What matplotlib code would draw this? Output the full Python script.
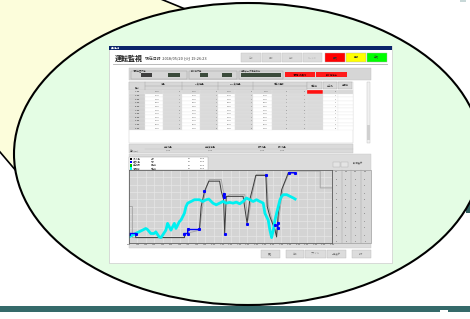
import numpy as np
import matplotlib.pyplot as plt
from matplotlib.patches import Rectangle, Ellipse, Polygon

plt.rcParams['font.family'] = ['Noto Sans CJK JP', 'DejaVu Sans']

# trend data (hours, percent of scale)
dark_x = [0, 0.79, 0.79, 6.55, 6.55, 6.94, 6.94, 8.33, 8.53, 8.93, 9.44, 10.71, 10.91, 11.19, 11.31,
          11.50, 13.49, 13.96, 14.28, 14.68, 14.99, 16.18, 16.34, 16.66, 17.26, 17.45, 17.65, 18.05,
          18.45, 18.84, 19.64]
dark_y = [13, 13, 7.4, 7.4, 13, 13, 18.5, 18.5, 50, 70.8, 84.7, 84.7, 70.8, 59.3, 13,
          63.9, 63.9, 26.9, 59.3, 77.8, 92.6, 92.6, 50, 36.1, 17.6, 8.3, 40.7, 73.1,
          84.7, 96.3, 96.3]

gray_x = [0, 0.40, 0.40, 6.55, 6.74, 8.33, 8.73, 9.12, 9.52, 10.91, 11.11, 11.42, 11.90, 13.69,
          14.08, 14.48, 15.07, 16.26, 16.46, 16.86, 17.45, 17.85, 18.25, 19.04, 19.83, 22.61, 22.61, 24]
gray_y = [50, 50, 7.4, 7.4, 13, 17.6, 52.3, 75.5, 87, 87, 73.1, 61.6, 66.2, 66.2,
          31.5, 61.6, 94, 94, 52.3, 33.8, 13, 45.4, 77.8, 98.6, 98.6, 98.6, 75.5, 75.5]

cyan_x = [0, 0.40, 0.79, 1.19, 1.59, 1.98, 2.18, 2.58, 2.98, 3.17, 3.57, 3.77, 3.97, 4.36, 4.56,
          4.76, 4.96, 5.16, 5.36, 5.55, 5.75, 5.95, 6.15, 6.35, 6.55, 6.74, 6.94, 7.34, 7.74, 8.33,
          8.73, 9.12, 9.44, 9.92, 10.31, 10.71, 11.11, 11.50, 11.90, 12.30, 12.69, 13.09, 13.49,
          13.88, 14.28, 14.68, 15.07, 15.47, 15.87, 16.07, 16.26, 16.46, 16.66, 16.86, 17.06,
          17.26, 17.45, 17.65, 17.85, 18.05, 18.25, 18.64, 19.04, 19.44, 19.64]
cyan_y = [8.3, 10.6, 13, 15.3, 17.6, 19.9, 18.5, 13, 13, 15.3, 8.3, 7.4, 10.6, 17.6, 26.9,
          22.2, 17.6, 22.2, 26.9, 19.9, 24.5, 29.2, 31.5, 36.1, 40.7, 50, 54.6, 56.9, 59.3, 59.3,
          56.9, 59.3, 60.2, 54.6, 52.3, 54.6, 56.9, 54.6, 55.6, 54.6, 56, 53.7, 56.9,
          61.6, 59.3, 56.9, 59.3, 56.9, 54.6, 40.7, 36.1, 31.5, 17.6, 7.4, 17.6,
          31.5, 40.7, 50, 59.3, 63.9, 66.2, 66.2, 63.9, 61.6, 60.2]

blue_x = [0, 0.79, np.nan, 6.55, 6.94, 6.94, 8.25, np.nan, 8.81, np.nan, 11.19, 11.19, np.nan, 11.31,
          np.nan, 13.96, np.nan, 16.14, np.nan, 17.26, np.nan, 17.57, 17.65, np.nan, 18.96, 19.64]
blue_y = [13, 13, np.nan, 13, 13, 18.5, 18.5, np.nan, 70.8, np.nan, 67.6, 63, np.nan, 13,
          np.nan, 25.9, np.nan, 92.6, np.nan, 24.5, np.nan, 19.9, 27.8, np.nan, 96.3, 96.3]

hours = ['%d:00' % h for h in range(0, 25)]
row_times = ['13:00', '14:00', '15:00', '16:00', '17:00', '18:00', '19:00', '20:00', '21:00', '22:00', '23:00']
row_vals = ['1520', '4870', '4650', '5030', '4920', '5110', '4780', '5260', '4990', '5080', '4730']
col_heads = ['流量', 'SS負荷量', 'COD負荷量', '積算流量計']
scale_vals = ['100', '90', '80', '70', '60', '50', '40', '30', '20', '10', '0']
legend_names = ['流入水量', '処理水量', '返送汚泥', '汚泥濃度']
legend_cols = ['#000000', '#0000ff', '#00c000', '#00ffff']

fig = plt.figure(figsize=(4.7, 3.19), dpi=100)
ax = fig.add_axes([0, 0, 1, 1])
ax.set_xlim(0, 470)
ax.set_ylim(319, 0)
ax.axis('off')


def box(x0, y0, x1, y1, fc, ec='none', lw=0.3, z=2):
    ax.add_patch(Rectangle((x0, y0), x1 - x0, y1 - y0, fc=fc, ec=ec, lw=lw, zorder=z))


def txt(x, y, s, size=1.8, color='#333333', ha='left', z=4, **kw):
    ax.text(x, y, s, fontsize=size, color=color, ha=ha, va='center', zorder=z, **kw)


# slide background bits
box(0, 306, 470, 312, '#356a6a', z=0)
box(440, 310, 448, 319, 'white', z=0)
box(460, 0, 466, 2, '#c8d8d8', z=0)
box(466, 203, 470, 213, '#2f5f5f', z=0)

# callout and ellipse
ax.add_patch(Polygon([(-10, -10), (138.7, -10), (190, 11), (30, 187.3), (-10, 140.2)],
                     closed=True, fc='#fcfddb', ec='black', lw=1.2, zorder=1))
ax.add_patch(Ellipse((248, 154), 468, 302, fc='#e4fde4', ec='black', lw=1.5, zorder=1))

# screenshot window
box(109, 46, 392, 263, 'white', ec='#cccccc', lw=0.5)
box(109, 46, 392, 50, '#0a246a', z=3)
txt(111, 48, '運転監視', size=1.6, color='white')
txt(114.5, 58.5, '運転監視', size=5.0, color='#202020', fontweight='bold')
txt(145, 59, '現在日時  2018/05/20 (火) 19:26:23', size=2.8, color='#333333')
ax.plot([113, 387], [63.5, 63.5], color='#b0b0b0', lw=0.6, zorder=3)

# top buttons
for i, lab in enumerate(['日報', '月報', '年報', 'トレンド']):
    box(241 + i * 20.5, 53, 260.5 + i * 20.5, 62, '#dcdcdc', ec='#c0c0c0')
    txt(250.5 + i * 20.5, 57.5, lab, size=1.6, color='#999999', ha='center')
for x0, x1, c, lab in [(325, 345, '#ff0000', '異常'), (346, 366, '#ffff00', '警報'), (366.5, 387, '#00ff00', '正常')]:
    box(x0, 53, x1, 62, c, ec='#b0b0b0')
    txt((x0 + x1) / 2, 57.5, lab, size=1.8, color='#333333', ha='center')

# status panel
box(129, 68, 371, 80, '#d6d6d6', ec='#c0c0c0')
for x0, x1, lab in [(131, 187, '汚泥処理状態'), (189, 237, '脱水機状態'), (239, 283, '前回データ保存時刻')]:
    box(x0, 70.5, x1, 78.5, 'none', ec='#999999', lw=0.3, z=3)
    txt(x0 + 2, 70.5, lab, size=1.6, color='#444444')
box(141, 73, 152, 77, '#404040', z=3)
box(168, 73, 180, 77, '#3b4b3b', z=3)
box(200, 73, 208, 77, '#3b4b3b', z=3)
box(222, 73, 232, 77, '#3b4b3b', z=3)
box(241, 73, 281, 77, '#3b4b3b', z=3)
box(285, 72, 315, 77, '#ff1a1a', z=3)
box(316, 72, 347, 77, '#ff1a1a', z=3)
txt(300, 74.5, '汚泥引抜異常', size=1.7, color='#400000', ha='center')
txt(331.5, 74.5, '脱水機停止', size=1.7, color='#400000', ha='center')

# table
xe = [129.3, 145, 163.3, 181.7, 200, 218.3, 235, 253.3, 271.7, 288.3, 306.7, 322.7, 337.7, 352.7]
cfill = ['#d0d0d0', 'white', '#dadada', 'white', '#dadada', 'white', '#dadada', 'white', '#dadada',
         '#dadada', '#dadada', 'white', 'white']
box(129.3, 81.7, 352.7, 143, 'white', ec='#c8c8c8')
box(129.3, 81.7, 306.7, 90, '#d8d8d8', ec='#b8b8b8')
for i in range(3):
    box(xe[10 + i] + 0.5, 82, xe[11 + i] - 0.5, 89, '#d8d8d8', ec='#a8a8a8', z=3)
    txt((xe[10 + i] + xe[11 + i]) / 2, 85.5, ['積算値', '前日比', '前回値'][i], size=1.6, ha='center')
for g, (a, b) in enumerate([(1, 3), (3, 5), (5, 7), (7, 10)]):
    txt((xe[a] + xe[b]) / 2, 84, col_heads[g], size=1.6, ha='center')
    ax.plot([xe[a], xe[a]], [81.7, 90], color='#a0a0a0', lw=0.3, zorder=3)
ax.plot([145, 306.7], [86, 86], color='#a0a0a0', lw=0.3, zorder=3)
txt(137, 87.5, '時刻', size=1.6, ha='center')
row_h = 3.64
for r in range(11):
    y0 = 90 + r * row_h
    for c in range(13):
        fc = cfill[c]
        if r == 0:
            fc = '#d8d8d8'
        if r == 0 and c == 10:
            fc = '#ff1010'
        if c >= 11 and r > 0:
            fc = 'white'
        box(xe[c], y0, xe[c + 1], y0 + row_h, fc, ec='#e4e4e4', lw=0.2)
    txt(137, y0 + row_h / 2, row_times[r], size=1.5, ha='center')
    for c in [1, 3, 5, 7]:
        txt(xe[c + 1] - 6, y0 + row_h / 2, row_vals[r], size=1.4, color='#555555', ha='center')
    for c in [2, 4, 6, 8, 9, 11]:
        txt(xe[c + 1] - 2, y0 + row_h / 2, str(r % 5), size=1.4, color='#666666', ha='center')
box(366.5, 82, 370, 143, '#f0f0f0', ec='#c0c0c0')
box(367, 125, 369.5, 140, '#d0d0d0', z=3)

# summary band
box(129.3, 144, 352.7, 153, '#dadada', ec='#c0c0c0')
ax.plot([145, 352.7], [148.5, 148.5], color='#c0c0c0', lw=0.3, zorder=3)
txt(130, 151, '日計(m3)', size=1.6)
for x, lab in [(168, '平均流量'), (210, '平均負荷量'), (262, '最大流量'), (282, '最小流量')]:
    txt(x, 146.5, lab, size=1.5, ha='center')
    txt(x, 150.5, '1,250', size=1.4, ha='center', color='#666666')

# trend panel
box(129, 154, 371, 248, '#dcdcdc', ec='#c8c8c8')
box(129, 157, 208, 170, 'white', ec='#a0a0a0', z=3)
for i in range(4):
    y = 158.8 + i * 3.2
    box(129.5, y - 1.3, 131.5, y + 1.3, legend_cols[i], z=4)
    txt(133, y, legend_names[i], size=1.4, color='#555555')
    txt(151, y, ['上限', '下限', '設定値', '現在値'][i], size=1.4, color='#555555')
    txt(188, y, '0.0', size=1.4, color='#555555')
    txt(200, y, '100.0', size=1.4, color='#555555')
box(333, 162, 340, 167, '#e4e4e4', ec='#b0b0b0', z=3)
box(341, 162, 348, 167, '#e4e4e4', ec='#b0b0b0', z=3)
txt(353, 163, '1時間表示', size=1.6, color='#555555')

# right-hand scale table
box(332, 170, 371, 243, '#d6d6d6', ec='#909090', lw=0.4)
for x in [341.5, 351, 360.5]:
    ax.plot([x, x], [170, 243], color='#a0a0a0', lw=0.3, zorder=3)
for r in range(11):
    y = 172 + r * 7
    for k in range(4):
        txt(336.5 + k * 9.5, y, scale_vals[r], size=1.3, color='#555555', ha='center')

# bottom buttons
for x0, x1, lab in [(261, 280, '戻る'), (286, 304, '印刷'), (305, 326, 'ファイル'), (327, 346, '一覧表示'), (352, 371, '終了')]:
    box(x0, 250, x1, 258, '#dcdcdc', ec='#b8b8b8')
    txt((x0 + x1) / 2, 254, lab, size=1.6, ha='center', color='#777777')

# the trend chart itself
cax = fig.add_axes([129 / 470, 1 - 243 / 319, 203 / 470, 73 / 319])
cax.set_facecolor('#d4d4d4')
cax.set_xlim(0, 24)
cax.set_ylim(0, 100)
cax.set_xticks(range(0, 25))
cax.set_xticklabels(hours, fontsize=1.5, color='#555555')
cax.set_yticks(range(0, 101, 10))
cax.set_yticklabels([])
cax.tick_params(length=0, pad=1)
cax.grid(True, color='#e6e6e6', lw=0.5)
for s in cax.spines.values():
    s.set_color('#606060')
    s.set_linewidth(0.6)
cax.plot(gray_x, gray_y, color='#a8a8a8', lw=0.7)
cax.plot(dark_x, dark_y, color='#3c3c3c', lw=0.7)
cax.plot(cyan_x, cyan_y, color='#00f0f0', lw=2.0)
cax.plot(blue_x, blue_y, color='#0000ff', lw=1.0, marker='s', ms=1.2)

fig.savefig('out.png', dpi=100)
